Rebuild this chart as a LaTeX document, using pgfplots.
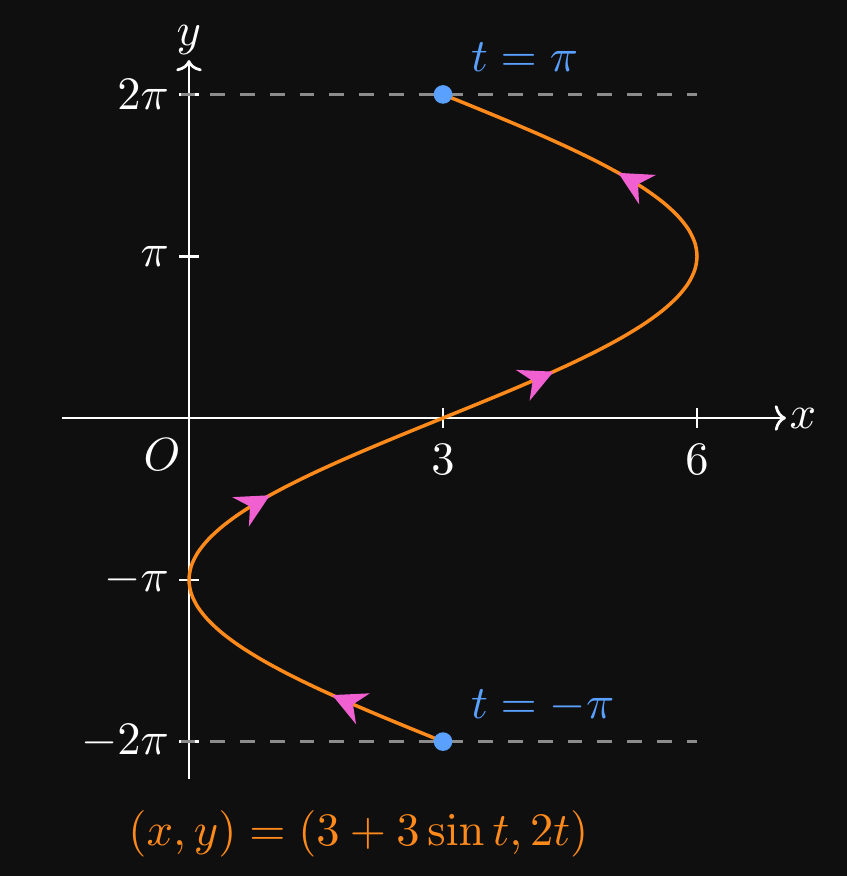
\documentclass[border=0pt]{standalone}
\usepackage{pgfplots}
\pgfplotsset{compat=1.18}
\usetikzlibrary{arrows.meta,backgrounds}
\definecolor{bg}{HTML}{0F0F0F}
\definecolor{curve}{HTML}{FF8A1C}
\definecolor{ptblue}{HTML}{5AA0FF}
\definecolor{arr}{HTML}{F060D0}
\definecolor{dashc}{HTML}{8C8C8C}
\begin{document}
\begin{tikzpicture}
\begin{axis}[
  x=18.2pt, y=11.07pt,
  axis lines=middle,
  xmin=-1.5, xmax=7.05, ymin=-7, ymax=6.95,
  axis line style={white, line width=0.6pt, -{To[length=2.4pt,width=5.5pt]}},
  xtick={3,6}, ytick={-6.283185,-3.141593,3.141593,6.283185},
  yticklabels={$-2\pi$,$-\pi$,$\pi$,$2\pi$},
  tick style={white, line width=0.55pt},
  major tick length=4.2pt,
  tick align=center,
  ticklabel style={white},
  yticklabel style={xshift=1.3pt},
  xlabel={$x$}, ylabel={$y$},
  xlabel style={white, at={(ticklabel* cs:1)}, anchor=west, inner sep=0.6pt},
  ylabel style={white, at={(ticklabel* cs:1)}, anchor=south, inner sep=1pt},
  clip=false,
  arrowseg/.style={curve, line width=0.75pt, -{Stealth[length=7.2pt,width=7.2pt,inset=2.3pt,color=arr]}},
]
\coordinate (bl) at (axis cs:-2.232,-8.893);
\coordinate (tr) at (axis cs:7.771,8.117);
\addplot[dashc, line width=0.75pt, dash pattern=on 3.2pt off 3.2pt] coordinates {(-0.1,6.283185) (6,6.283185)};
\addplot[dashc, line width=0.75pt, dash pattern=on 3.2pt off 3.2pt] coordinates {(-0.1,-6.283185) (6,-6.283185)};
\addplot[curve, line width=0.75pt, smooth]
coordinates {
(3,-6.2832) (2.6084,-6.0214) (2.2235,-5.7596) (1.8520,-5.4978) (1.5,-5.2360)
(1.1737,-4.9742) (0.8787,-4.7124) (0.6199,-4.4506) (0.4019,-4.1888) (0.2284,-3.9270)
(0.1022,-3.6652) (0.0257,-3.4034) (0,-3.1416) (0.0257,-2.8798) (0.1022,-2.6180)
(0.2284,-2.3562) (0.4019,-2.0944) (0.6199,-1.8326) (0.8787,-1.5708) (1.1737,-1.3090)
(1.5,-1.0472) (1.8520,-0.7854) (2.2235,-0.5236) (2.6084,-0.2618) (3,0)
(3.3916,0.2618) (3.7765,0.5236) (4.1480,0.7854) (4.5,1.0472) (4.8263,1.3090)
(5.1213,1.5708) (5.3801,1.8326) (5.5981,2.0944) (5.7716,2.3562) (5.8978,2.6180)
(5.9743,2.8798) (6,3.1416) (5.9743,3.4034) (5.8978,3.6652) (5.7716,3.9270)
(5.5981,4.1888) (5.3801,4.4506) (5.1213,4.7124) (4.8263,4.9742) (4.5,5.2360)
(4.1480,5.4978) (3.7765,5.7596) (3.3916,6.0214) (3,6.2832)
};
\addplot[arrowseg] coordinates {(1.8273,-5.48) (1.6908,-5.38)};
\addplot[arrowseg] coordinates {(0.8479,-1.60) (0.9551,-1.50)};
\addplot[arrowseg] coordinates {(4.1682,0.80) (4.3050,0.90)};
\addplot[arrowseg] coordinates {(5.1762,4.66) (5.0700,4.76)};
\addplot[only marks, mark=*, mark size=1.8pt, ptblue, mark options={draw=ptblue, fill=ptblue}]
coordinates {(3,-6.283185) (3,6.283185)};
\node[ptblue, anchor=base west, inner sep=0pt] at (axis cs:3.32,6.72) {$t=\pi$};
\node[ptblue, anchor=base west, inner sep=0pt] at (axis cs:3.32,-5.84) {$t=-\pi$};
\node[white] at (axis cs:-0.32,-0.72) {$O$};
\node[curve] at (axis cs:2.0,-8.08) {$(x,y)=(3+3\sin t,2t)$};
\end{axis}
\begin{scope}[on background layer]
\fill[bg] (bl) rectangle (tr);
\end{scope}
\end{tikzpicture}
\end{document}
